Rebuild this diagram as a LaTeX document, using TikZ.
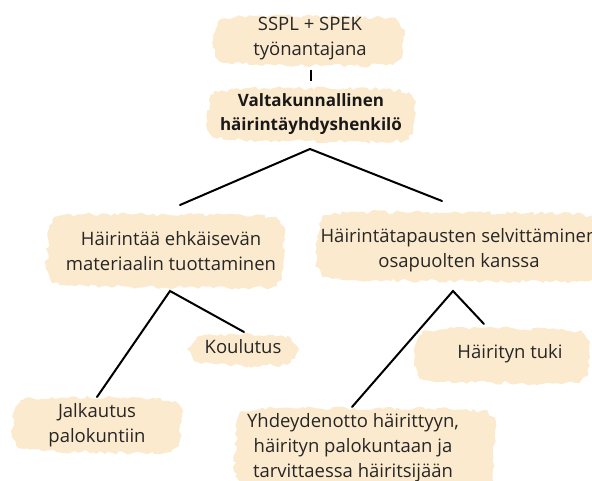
\documentclass[tikz,border=0pt]{standalone}
\usepackage{fontspec}
\setmainfont{Open Sans}
\usetikzlibrary{decorations.pathmorphing}
\definecolor{brushc}{RGB}{252,234,206}
\tikzset{
  lbl/.style={align=center, inner sep=0pt, text=black!85, font=\fontsize{18.5}{25}\selectfont},
  boldlbl/.style={lbl, text=black!90, font=\fontsize{17}{23.5}\selectfont\bfseries},
  brushfill/.style={fill=brushc, decorate, decoration={random steps, segment length=4pt, amplitude=2pt}},
  conn/.style={line width=2pt, line cap=round, line join=miter, black}
}
\newcommand{\brushpatch}[4]{%
  \fill[brushfill] (#1+8,#2+3) -- (#1+40,#2) -- (#3-30,#2+1) -- (#3-8,#2+4) -- (#3,#2+14) -- (#3-3,#4-8) -- (#3-12,#4-1) -- (#3-50,#4) -- (#1+30,#4-2) -- (#1+6,#4-5) -- (#1,#4-18) -- (#1+3,#2+12) -- cycle;}
\begin{document}
\begin{tikzpicture}[x=1pt,y=-1pt]
\clip (0,0) rectangle (592,481);
\fill[white] (0,0) rectangle (592,481);
\pgfmathsetseed{7}
% brushes
\brushpatch{213}{16}{405}{66}
\brushpatch{206}{88}{416}{142}
\brushpatch{46}{214}{285}{288}
\brushpatch{316}{212}{600}{282}
\brushpatch{188}{334}{299}{366}
\brushpatch{414}{328}{590}{384}
\brushpatch{12}{397}{183}{453}
\brushpatch{234}{408}{496}{490}
% texts
\node[lbl] (top) at (310,39) {SSPL + SPEK\\työnantajana};
\node[boldlbl] (main) at (311,114) {Valtakunnallinen\\häirintäyhdyshenkilö};
\node[lbl] (mat) at (171,251) {Häirintää ehkäisevän\\materiaalin tuottaminen};
\node[lbl] (selv) at (459,250) {Häirintätapausten selvittäminen\\osapuolten kanssa};
\node[lbl] (koul) at (243,347) {Koulutus};
\node[lbl] (tuki) at (510,354) {Häirityn tuki};
\node[lbl] (jalk) at (97,425) {Jalkautus\\palokuntiin};
\node[lbl] (yht) at (353,448) {Yhdeydenotto häirittyyn,\\häirityn palokuntaan ja\\tarvittaessa häiritsijään};
% connector points
\coordinate (tickA) at (311,70);
\coordinate (tickB) at (311,81);
\coordinate (apexA) at (310,149);
\coordinate (endA1) at (180,205);
\coordinate (endA2) at (442,201);
\coordinate (apexB) at (170,291);
\coordinate (endB1) at (97,397);
\coordinate (endB2) at (244,332);
\coordinate (apexC) at (453,291);
\coordinate (endC1) at (352,407);
\coordinate (endC2) at (484,324);
% connectors
\draw[conn, line cap=butt, line width=2.2pt] (tickA) -- (tickB);
\draw[conn] (endA1) -- (apexA) -- (endA2);
\draw[conn] (endB1) -- (apexB) -- (endB2);
\draw[conn] (endC1) -- (apexC) -- (endC2);
\end{tikzpicture}
\end{document}
